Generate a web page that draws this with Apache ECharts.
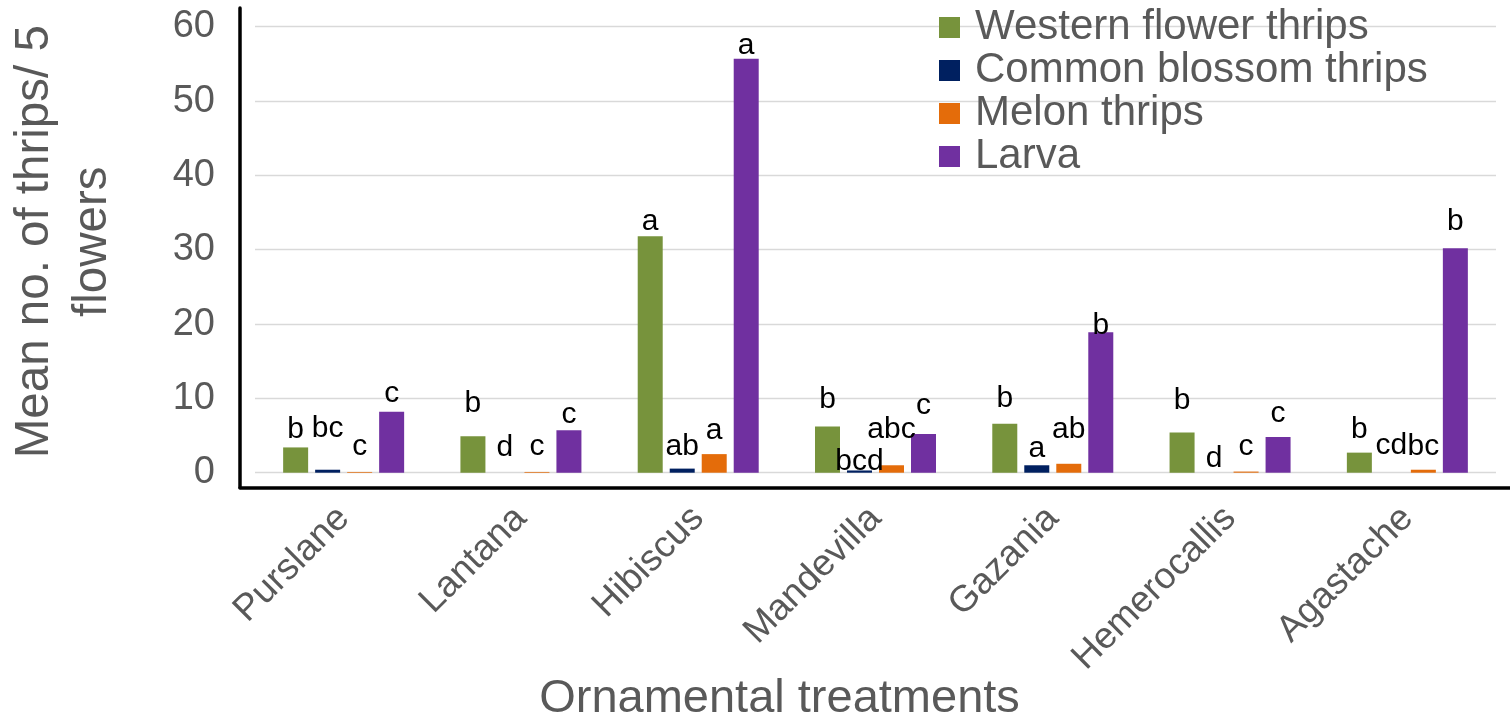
<!DOCTYPE html>
<html><head><meta charset="utf-8">
<script src="https://cdn.jsdelivr.net/npm/echarts@6/dist/echarts.min.js"></script>
<style>html,body{margin:0;padding:0;background:#fff}#chart{width:1510px;height:720px}</style>
</head><body><div id="chart"></div>
<script>
const categories = ['Purslane', 'Lantana', 'Hibiscus', 'Mandevilla', 'Gazania', 'Hemerocallis', 'Agastache'];
const seriesNames = ['Western flower thrips', 'Common blossom thrips', 'Melon thrips', 'Larva'];
const westernFlower = [3.4, 4.9, 31.8, 6.2, 6.6, 5.4, 2.7];
const commonBlossom = [0.4, 0, 0.55, 0.3, 1.0, 0, 0];
const melon = [0.1, 0.1, 2.5, 1.0, 1.2, 0.15, 0.4];
const larva = [8.2, 5.7, 55.7, 5.2, 18.9, 4.8, 30.2];
const lettersWestern = ['b', 'b', 'a', 'b', 'b', 'b', 'b'];
const lettersCommon = ['bc', 'd', 'ab', 'bcd', 'a', 'd', 'cd'];
const lettersMelon = ['c', 'c', 'a', 'abc', 'ab', 'c', 'bc'];
const lettersLarva = ['c', 'c', 'a', 'c', 'b', 'c', 'b'];
const yMin = 0, yMax = 60, yStep = 10;

// label gap above each bar (px), as placed in the original figure
const gapWestern = [3, 18, 0, 12, 10, 17, 8];
const gapCommon = [26, 10, 7, -6, 2, -1, 12];
const gapMelon = [10, 10, 8, 21, 19, 10, 8];
const gapLarva = [3, 1, -2, 13, -9, 8, 11];

const FONT = '"Liberation Sans", Arial, sans-serif';
const GREY = '#595959';
const colors = ['#77933C', '#002060', '#E46C0A', '#7030A0'];

function barSeries(name, values, letters, gaps, color) {
  return {
    name: name, type: 'bar', xAxisIndex: 0, yAxisIndex: 0,
    data: values.map(function (v, i) { return { value: v, label: { distance: gaps[i] } }; }),
    barWidth: 25, barGap: '28%',
    itemStyle: { color: color },
    label: {
      show: true, position: 'top', distance: 8,
      fontSize: 30, color: '#000', fontFamily: FONT,
      formatter: function (p) { return letters[p.dataIndex]; }
    },
    emphasis: { disabled: true }
  };
}

const chart = echarts.init(document.getElementById('chart'), null, { renderer: 'canvas' });
chart.setOption({
  animation: false,
  backgroundColor: '#fff',
  textStyle: { fontFamily: FONT },
  legend: {
    data: seriesNames, orient: 'vertical', left: 934, top: 1,
    icon: 'rect', itemWidth: 21, itemHeight: 21, itemGap: 0,
    selectedMode: false,
    textStyle: { fontSize: 42, color: GREY, fontFamily: FONT, lineHeight: 43, padding: [0, 0, 0, 10] }
  },
  grid: [
    { left: 255, right: 14, top: 26.7, bottom: 247.3, outerBoundsMode: 'none', containLabel: false },
    { left: 240, right: 0, top: 8, bottom: 232.5, outerBoundsMode: 'none', containLabel: false }
  ],
  xAxis: [
    {
      type: 'category', gridIndex: 0, data: categories,
      axisLine: { show: false }, axisTick: { show: false },
      axisLabel: { rotate: 45, fontSize: 37, color: GREY, fontFamily: FONT, margin: 40, interval: 0 },
      name: 'Ornamental treatments', nameLocation: 'middle', nameGap: 203, nameMoveOverlap: false,
      nameTextStyle: { fontSize: 47, color: GREY, fontFamily: FONT, padding: [0, 192, 0, 0] }
    },
    {
      type: 'value', gridIndex: 1, min: 0, max: 1,
      axisLine: { show: true, onZero: false, lineStyle: { color: '#000', width: 3.5 } },
      axisTick: { show: false }, axisLabel: { show: false }, splitLine: { show: false }
    }
  ],
  yAxis: [
    {
      type: 'value', gridIndex: 0, min: yMin, max: yMax, interval: yStep,
      axisLine: { show: false }, axisTick: { show: false },
      axisLabel: { fontSize: 38, color: GREY, fontFamily: FONT, margin: 40 },
      splitLine: { show: true, lineStyle: { color: '#D9D9D9', width: 1.3 } },
      name: 'Mean no. of thrips/ 5\nflowers', nameLocation: 'middle', nameRotate: 90, nameGap: 133, nameMoveOverlap: false,
      nameTextStyle: { fontSize: 47.5, lineHeight: 58, color: GREY, fontFamily: FONT, align: 'center', padding: [0, 0, 0, 16] }
    },
    {
      type: 'value', gridIndex: 1, min: 0, max: 1,
      axisLine: { show: true, onZero: false, lineStyle: { color: '#000', width: 3.5 } },
      axisTick: { show: false }, axisLabel: { show: false }, splitLine: { show: false }
    }
  ],
  series: [
    barSeries(seriesNames[0], westernFlower, lettersWestern, gapWestern, colors[0]),
    barSeries(seriesNames[1], commonBlossom, lettersCommon, gapCommon, colors[1]),
    barSeries(seriesNames[2], melon, lettersMelon, gapMelon, colors[2]),
    barSeries(seriesNames[3], larva, lettersLarva, gapLarva, colors[3])
  ]
});
</script>
</body></html>
